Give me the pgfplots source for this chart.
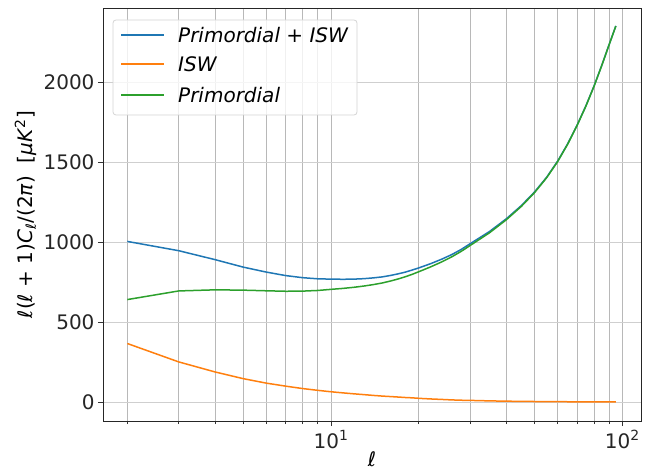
\documentclass[border=0pt]{standalone}
\usepackage{fontspec}
\setmainfont{DejaVu Sans}
\usepackage{pgfplots}
\usepackage{pgfplotstable}
\pgfplotsset{compat=1.18}
\definecolor{cZero}{HTML}{1F77B4}
\definecolor{cOne}{HTML}{FF7F0E}
\definecolor{cTwo}{HTML}{2CA02C}
\definecolor{gridx}{HTML}{B8B8B8}
\definecolor{gridy}{HTML}{CFCFCF}
\definecolor{legedge}{HTML}{D4D4D4}

\pgfplotstableread{
l total
2 1006
3 948
4 892
5 845
6 814
7 792
8 779
9 772
10 770
11 769
12 770
13 773
14 778
15 784
16 793
17 803
18 814
19 827
20 840
22 867
24 895
26 924
28 956
30 991
35 1068
40 1148
45 1230
50 1316
55 1408
60 1509
65 1619
70 1735
75 1855
80 1980
85 2108
90 2236
95 2355
}\totaltab

\pgfplotstableread{
l isw
2 367
3 252
4 189
5 147
6 119
7 100
8 85
9 74
10 65
11 58
12 52
13 47
14 42
15 38
16 35
17 32
18 29
19 27
20 24
22 20
24 17
26 14
28 12
30 11
35 8
40 6
45 5
50 4
55 3
60 3
70 2
80 2
90 1
95 1
}\iswtab

\pgfplotstableread{
l prim
2 642
3 696
4 703
5 701
6 697
7 694
8 695
9 699
10 706
11 712
12 719
13 727
14 736
15 746
16 758
17 771
18 785
19 800
20 816
22 847
24 878
26 910
28 944
30 980
35 1060
40 1142
45 1225
50 1312
55 1405
60 1506
65 1616
70 1733
75 1853
80 1978
85 2107
90 2235
95 2354
}\primtab

\begin{document}
\begin{tikzpicture}
\begin{axis}[
  xmode=log,
  width=538pt, height=413pt, scale only axis,
  xmin=1.65, xmax=115.9, ymin=-118, ymax=2467,
  xtick={10,100},
  xticklabels={10\textsuperscript{1},10\textsuperscript{2}},
  minor xtick={2,3,4,5,6,7,8,9,20,30,40,50,60,70,80,90},
  ytick={0,500,1000,1500,2000},
  minor ytick={},
  /pgf/number format/assume math mode=true,
  /pgf/number format/set thousands separator={},
  tick label style={font=\fontsize{20}{24}\selectfont, black!85},
  xticklabel style={yshift=-1pt},
  tick align=outside, tick pos=left,
  major tick length=5pt, minor tick length=3pt,
  every tick/.style={black!80, line width=0.8pt},
  grid=both,
  major x grid style={gridx, line width=0.8pt},
  minor x grid style={gridx, line width=0.8pt},
  major y grid style={gridy, line width=0.8pt},
  axis line style={black!85, line width=0.8pt},
  xlabel={\textit{ℓ}},
  xlabel style={yshift=4pt},
  ylabel={\textit{ℓ}(\textit{ℓ} + 1)\textit{C}\textsubscript{\textit{ℓ}}/(2\textit{π})\hspace{13pt}[\textit{μK}\textsuperscript{2}]},
  label style={font=\fontsize{20}{24}\selectfont},
  clip=true,
]
\coordinate (sw) at (rel axis cs:0,0);
\coordinate (ne) at (rel axis cs:1,1);
\coordinate (nw) at (rel axis cs:0,1);
\addplot[cZero, line width=1.5pt] table[x=l, y=total] {\totaltab};
\addplot[cOne, line width=1.5pt] table[x=l, y=isw] {\iswtab};
\addplot[cTwo, line width=1.5pt] table[x=l, y=prim] {\primtab};
\end{axis}
% legend box
\fill[white, opacity=0.8, rounded corners=3pt]
  ([shift={(10pt,-12pt)}]nw) rectangle ([shift={(254pt,-107pt)}]nw);
\draw[legedge, line width=0.8pt, rounded corners=3pt]
  ([shift={(10pt,-12pt)}]nw) rectangle ([shift={(254pt,-107pt)}]nw);
% legend keys
\draw[cZero, line width=1.5pt] ([shift={(18pt,-27pt)}]nw) -- ([shift={(61pt,-27pt)}]nw);
\draw[cOne, line width=1.5pt] ([shift={(18pt,-56pt)}]nw) -- ([shift={(61pt,-56pt)}]nw);
\draw[cTwo, line width=1.5pt] ([shift={(18pt,-87pt)}]nw) -- ([shift={(61pt,-87pt)}]nw);
% legend texts
\node[anchor=west, inner sep=0pt, font=\fontsize{20}{24}\selectfont]
  at ([shift={(75pt,-27pt)}]nw) {\textit{Primordial} + \textit{ISW}};
\node[anchor=west, inner sep=0pt, font=\fontsize{20}{24}\selectfont]
  at ([shift={(75pt,-56pt)}]nw) {\textit{ISW}};
\node[anchor=west, inner sep=0pt, font=\fontsize{20}{24}\selectfont]
  at ([shift={(75pt,-87pt)}]nw) {\textit{Primordial}};
\pgfresetboundingbox
\path ([shift={(-103pt,-50pt)}]sw) rectangle ([shift={(16pt,8pt)}]ne);
\end{tikzpicture}
\end{document}
